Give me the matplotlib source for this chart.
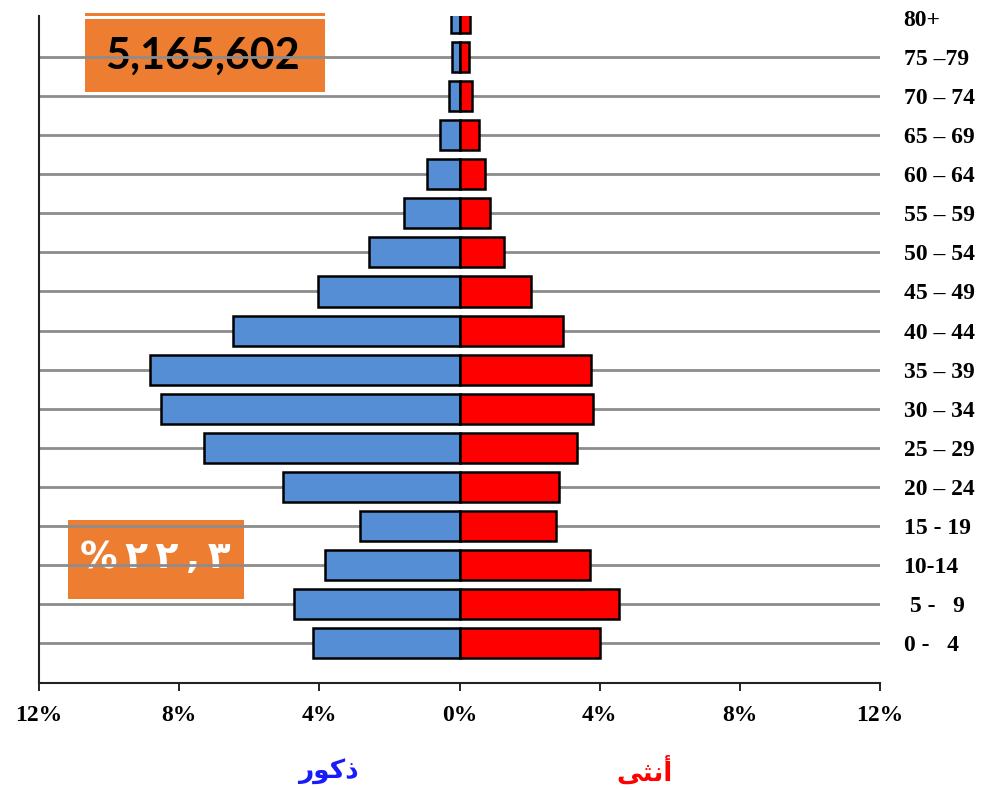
import numpy as np
import matplotlib
matplotlib.use('Agg')
import matplotlib.pyplot as plt
from matplotlib.patches import Rectangle

# Age groups, bottom to top
ages = ['0 -   4', ' 5 -   9', '10-14', '15 - 19', '20 – 24', '25 – 29', '30 – 34',
        '35 – 39', '40 – 44', '45 – 49', '50 – 54', '55 – 59', '60 – 64',
        '65 – 69', '70 – 74', '75 –79', '80+']
# Share of total population (%)
male = [4.17, 4.71, 3.85, 2.83, 5.05, 7.28, 8.53, 8.82, 6.45, 4.05, 2.57,
        1.57, 0.94, 0.56, 0.31, 0.20, 0.23]
female = [4.02, 4.54, 3.71, 2.74, 2.83, 3.34, 3.82, 3.74, 2.94, 2.03, 1.26,
          0.88, 0.74, 0.57, 0.37, 0.26, 0.29]
xticks = [-12, -8, -4, 0, 4, 8, 12]
total_label = '5,165,602'
# shown visually as in the original (RTL), presentation forms so the letters join
pct_label = '%\u2009\u0662\u2009\u0662\u2009,\u2009\u0663'
male_label = '\ufead\ufeee\ufedb\ufeab'      # ذكور
female_label = '\ufef0\ufe9c\ufee7\ufe83'    # أنثى

blue = '#558ED5'
red = '#FF0000'
orange = '#ED7D31'

fig = plt.figure(figsize=(9.81, 7.9), dpi=100)
ax = fig.add_axes([39 / 981, 107 / 790, 841 / 981, 667 / 790])

y = np.arange(len(ages))

# gridlines (no line for the top row)
ax.hlines(y[:-1], -12, 12, color='#8C8C8C', lw=2.0, zorder=2)

ax.barh(y, -np.array(male), height=0.77, color=blue, edgecolor='black', lw=1.8, zorder=3)
ax.barh(y, female, height=0.77, color=red, edgecolor='black', lw=1.8, zorder=3)

ax.set_xlim(-12, 12)
ax.set_ylim(-1.02, 16.05)

for s in ['top', 'right']:
    ax.spines[s].set_visible(False)
for s in ['left', 'bottom']:
    ax.spines[s].set_linewidth(1.5)
    ax.spines[s].set_color('#222222')

ax.set_xticks(xticks)
ax.set_xticklabels([f'{abs(t)}%' for t in xticks], fontfamily='Liberation Serif',
                   fontweight='bold', fontsize=17)
ax.tick_params(axis='x', direction='out', length=6, width=1.2, pad=10)

ax.yaxis.tick_right()
ax.set_yticks(y)
ax.set_yticklabels(ages, fontfamily='Liberation Serif', fontweight='bold', fontsize=17,
                   ha='left')
ax.tick_params(axis='y', length=0, pad=17)

# orange boxes (behind the gridlines)
ax.add_patch(Rectangle((0.0547, 0.886), 0.2854, 0.1094, transform=ax.transAxes,
                       facecolor=orange, edgecolor='none', zorder=1, clip_on=False))
ax.add_patch(Rectangle((0.0547, 1.0007), 0.2854, 0.0035, transform=ax.transAxes,
                       facecolor=orange, edgecolor='none', zorder=1, clip_on=False))
ax.text(0.1944, 0.941, total_label, transform=ax.transAxes, ha='center', va='center',
        fontfamily='Lato', fontweight='bold', fontsize=31, color='black', zorder=1.5)

ax.add_patch(Rectangle((0.0345, 0.126), 0.2093, 0.1184, transform=ax.transAxes,
                       facecolor=orange, edgecolor='none', zorder=1, clip_on=False))
ax.text(0.138, 0.187, pct_label, transform=ax.transAxes, ha='center', va='center',
        fontfamily='DejaVu Sans', fontweight='bold', fontsize=27, color='white', zorder=1.5)

# sex labels
fig.text(328 / 981, 1 - 771 / 790, male_label, ha='center', va='center',
         fontfamily='DejaVu Sans', fontweight='bold', fontsize=19, color='#1A1AFF')
fig.text(644 / 981, 1 - 772 / 790, female_label, ha='center', va='center',
         fontfamily='DejaVu Sans', fontweight='bold', fontsize=19, color=red)

fig.savefig('out.png', dpi=100)
